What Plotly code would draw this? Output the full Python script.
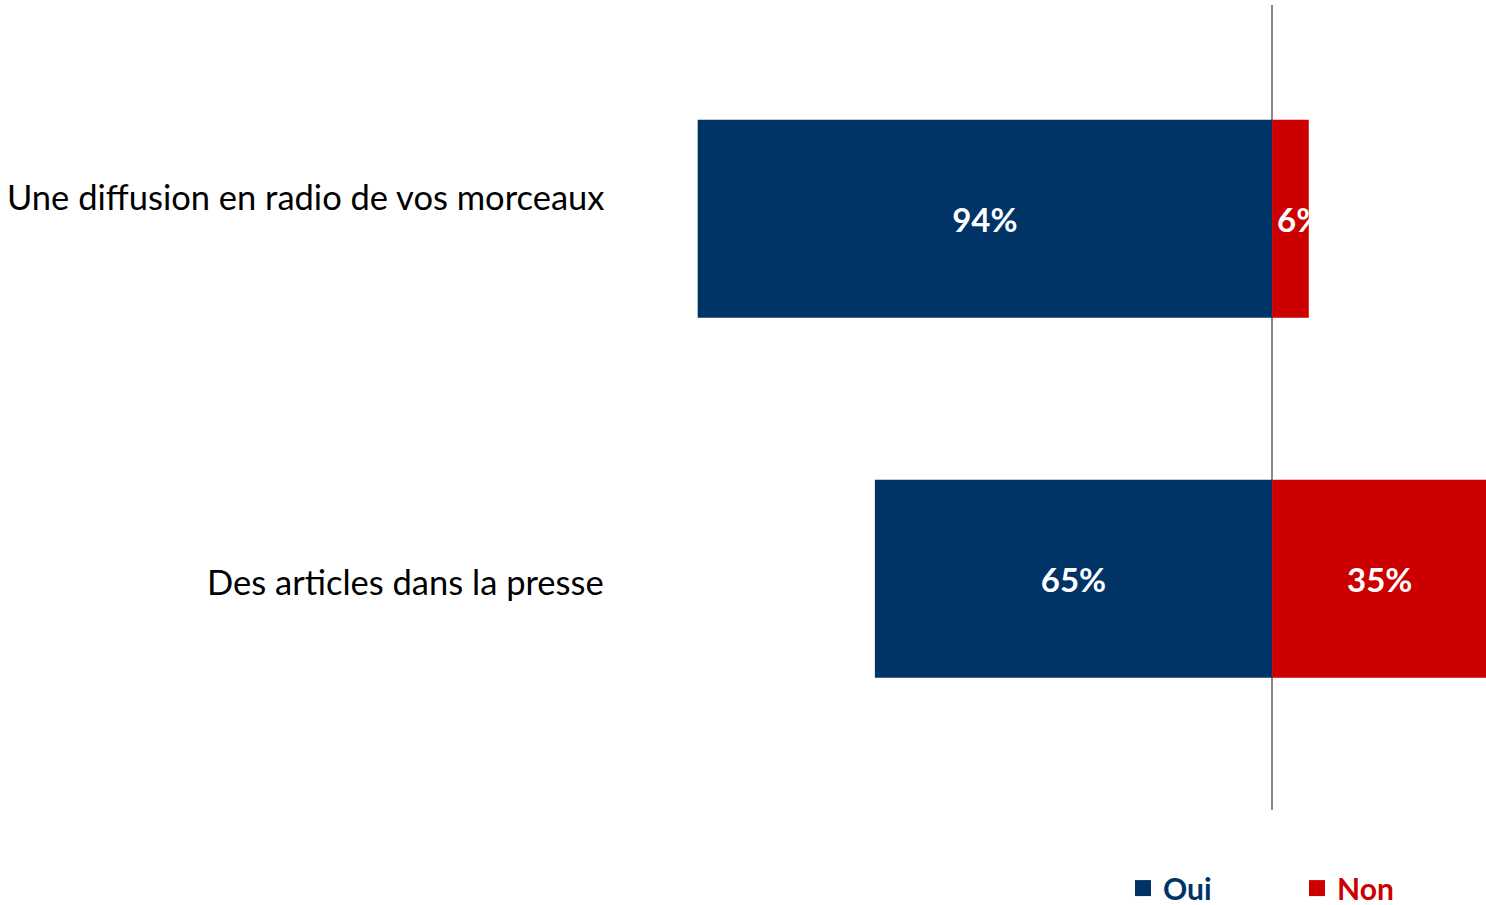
"""Diverging bar chart: Oui / Non per type of media exposure."""

import plotly.graph_objects as go

categories = ["Une diffusion en radio de vos morceaux", "Des articles dans la presse"]
oui = [94, 65]
non = [6, 35]

NAVY = "#003366"
RED = "#CC0000"
FONT = "Lato"

ypos = list(range(len(categories)))

fig = go.Figure()
fig.add_trace(go.Bar(
    y=ypos,
    x=[-v for v in oui],
    orientation="h",
    marker=dict(color=NAVY, line=dict(width=0)),
    text=[f"{v}%" for v in oui],
    textposition="inside",
    insidetextanchor="middle",
    constraintext="none",
    textfont=dict(family=FONT, size=33, color="white", weight="bold"),
    width=0.55,
    showlegend=False,
))
fig.add_trace(go.Bar(
    y=ypos,
    x=non,
    orientation="h",
    marker=dict(color=RED, line=dict(width=0)),
    width=0.55,
    showlegend=False,
))

# legend entries with bigger square swatches
for name, col in [("Oui", NAVY), ("Non", RED)]:
    fig.add_trace(go.Scatter(
        x=[None], y=[None], mode="markers",
        marker=dict(symbol="square", size=21, color=col),
        name=f"<span style='color:{col}'><b>{name}</b></span>",
    ))

# Non labels: small bars keep the text anchored at the base, it overflows into white
for i, v in enumerate(non):
    if v >= 10:
        fig.add_annotation(x=v / 2, y=i, text=f"<b>{v}%</b>", showarrow=False,
                           xanchor="center", font=dict(family=FONT, size=33, color="white"))
    else:
        fig.add_annotation(x=0, y=i, text=f"<b>{v}%</b>", showarrow=False,
                           xanchor="left", xshift=3, font=dict(family=FONT, size=33, color="white"))

# category labels
label_shift = [22, -3]
for i, c in enumerate(categories):
    fig.add_annotation(x=-0.067, xref="paper", y=i, yref="y", text=c, showarrow=False,
                       xanchor="right", yshift=label_shift[i],
                       font=dict(family=FONT, size=34.5, color="black"))

fig.update_layout(
    width=1486,
    height=905,
    barmode="relative",
    plot_bgcolor="white",
    paper_bgcolor="white",
    margin=dict(l=661, r=0, t=5, b=95, autoexpand=False),
    showlegend=True,
    legend=dict(
        orientation="h",
        x=0.56, xanchor="left",
        y=-0.097, yanchor="middle",
        font=dict(family=FONT, size=30),
        entrywidth=129,
        traceorder="normal",
    ),
    xaxis=dict(
        range=[-100, 35],
        showgrid=False,
        showticklabels=False,
        zeroline=True,
        zerolinecolor="#888888",
        zerolinewidth=2,
        fixedrange=True,
    ),
    yaxis=dict(
        range=[1.642, -0.594],
        showgrid=False,
        showticklabels=False,
        zeroline=False,
        fixedrange=True,
    ),
)

# drop the default body margin so the figure fills the window exactly
fig.write_html(
    "out.html",
    config={"displayModeBar": False},
    post_script="document.body.style.margin='0';document.body.style.overflow='hidden';",
)
